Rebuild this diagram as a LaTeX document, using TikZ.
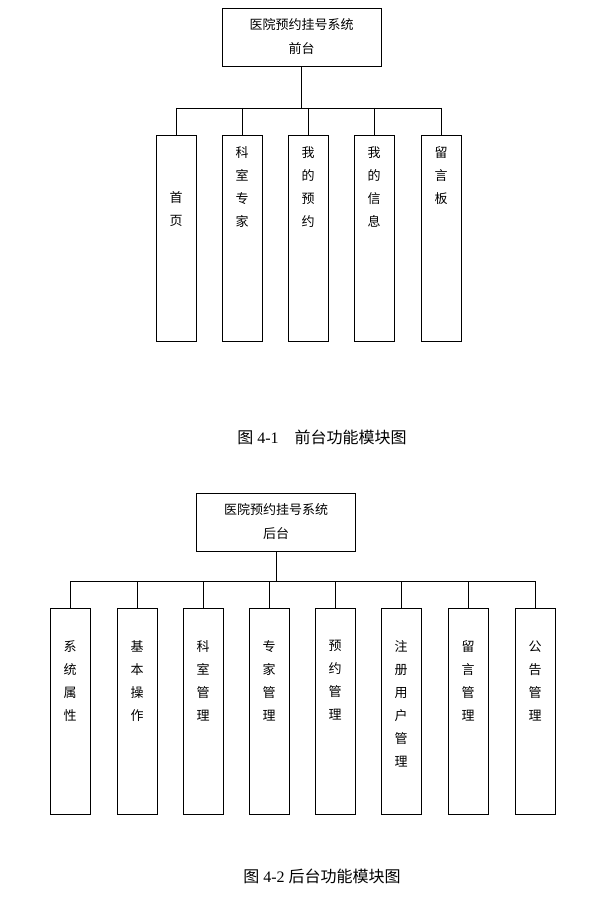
\documentclass[tikz,border=0pt]{standalone}
\usepackage{fontspec}
\setmainfont{Liberation Serif}
\newfontfamily\cjk{Noto Sans CJK SC}
\usetikzlibrary{positioning}

\begin{document}
\begin{tikzpicture}[x=1pt,y=-1pt,
    topbox/.style={draw, minimum width=159pt, minimum height=58pt, align=center,
      font=\cjk\fontsize{13}{24}\selectfont},
    modbox/.style={draw, minimum width=40pt, minimum height=206pt},
    modtext/.style={align=center, anchor=north, font=\cjk\fontsize{13}{23}\selectfont},
    caption/.style={font=\fontsize{16}{18}\selectfont}]
  \useasboundingbox (0,0) rectangle (612,923);

  % front end
  \node[topbox] (front) at (301.5,37) {医院预约挂号系统\\前台};
  \coordinate (fj) at (301.5,108);
  \draw (front.south) -- (fj);
  \draw (176,108) -- (441,108);
  \foreach \x/\n/\t/\y in {176/f1/首\\页/188, 242/f2/科\\室\\专\\家/143,
      308/f3/我\\的\\预\\约/143, 374/f4/我\\的\\信\\息/143, 441/f5/留\\言\\板/143} {
    \node[modbox] (\n) at (\x,238) {};
    \draw (\x,108) -- (\n.north);
    \node[modtext] at (\x,\y) {\t};
  }
  \node[caption] (cap1) at (322,437) {{\cjk 图} 4-1\quad{\cjk 前台功能模块图}};

  % back end
  \node[topbox] (back) at (276,522) {医院预约挂号系统\\后台};
  \coordinate (bj) at (276,581);
  \draw (back.south) -- (bj);
  \draw (70,581) -- (535,581);
  \foreach \x/\n/\t in {70/b1/系\\统\\属\\性, 137/b2/基\\本\\操\\作,
      203/b3/科\\室\\管\\理, 269/b4/专\\家\\管\\理, 335/b5/预\\约\\管\\理,
      401/b6/注\\册\\用\\户\\管\\理, 468/b7/留\\言\\管\\理, 535/b8/公\\告\\管\\理} {
    \node[modbox] (\n) at (\x,711) {};
    \draw (\x,581) -- (\n.north);
    \node[modtext] at (\x,637) {\t};
  }
  \node[caption] (cap2) at (322,876) {{\cjk 图} 4-2 {\cjk 后台功能模块图}};
\end{tikzpicture}
\end{document}
